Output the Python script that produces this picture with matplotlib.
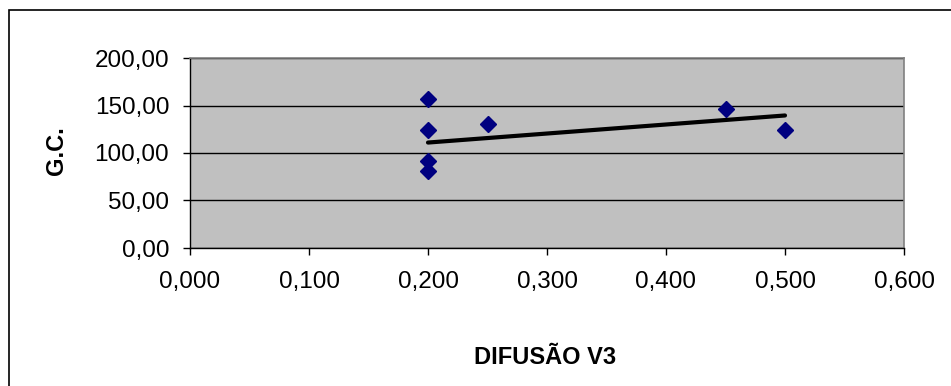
import matplotlib
matplotlib.use("Agg")
import matplotlib.pyplot as plt
from matplotlib.ticker import FuncFormatter, MultipleLocator
from matplotlib.patches import Rectangle

# Data
difusao_v3 = [0.20, 0.20, 0.20, 0.20, 0.25, 0.45, 0.50]
gc_values = [157.0, 124.0, 92.0, 81.0, 131.0, 146.5, 124.0]
trend_x = [0.20, 0.50]
trend_y = [111.0, 139.5]

x_label = "DIFUSÃO V3"
y_label = "G.C."

plt.rcParams['font.family'] = ['Liberation Sans', 'DejaVu Sans']

W, H = 951, 386
fig = plt.figure(figsize=(W / 100, H / 100), dpi=100)

left, right, top, bottom = 190, 904, 58, 248
ax = fig.add_axes([left / W, 1 - bottom / H, (right - left) / W, (bottom - top) / H])
ax.set_facecolor('#c0c0c0')

ax.set_xlim(0, 0.6)
ax.set_ylim(0, 200)
ax.xaxis.set_major_locator(MultipleLocator(0.1))
ax.yaxis.set_major_locator(MultipleLocator(50))
ax.xaxis.set_major_formatter(FuncFormatter(lambda v, p: f"{v:.3f}".replace('.', ',')))
ax.yaxis.set_major_formatter(FuncFormatter(lambda v, p: f"{v:.2f}".replace('.', ',')))

ax.grid(axis='y', color='black', linewidth=1.0)
ax.set_axisbelow(True)

for side in ['top', 'right']:
    ax.spines[side].set_color('#808080')
    ax.spines[side].set_linewidth(1.2)
for side in ['left', 'bottom']:
    ax.spines[side].set_color('black')
    ax.spines[side].set_linewidth(1.0)

ax.tick_params(axis='both', direction='out', length=5, width=1, colors='black',
               labelsize=17.5)
ax.tick_params(axis='y', pad=10)
ax.tick_params(axis='x', pad=11.5)

ax.plot(trend_x, trend_y, color='black', linewidth=3.0, solid_capstyle='round', zorder=3)
ax.plot(difusao_v3, gc_values, linestyle='none', marker='D', markersize=8.5,
        color='#000080', markeredgecolor='#000080', zorder=4)

fig.text(545 / W, 1 - 357 / H, x_label, ha='center', va='center',
         fontsize=17, fontweight='bold')
fig.text(57 / W, 1 - 151 / H, y_label, ha='center', va='center',
         fontsize=17, fontweight='bold', rotation=90)

# outer chart border (cropped at right and bottom)
fig.patches.append(Rectangle((9 / W, -0.05), 1.2, 1 - 10 / H + 0.05,
                             transform=fig.transFigure, fill=False,
                             edgecolor='black', linewidth=1.2))

fig.savefig('out.png', dpi=100)
